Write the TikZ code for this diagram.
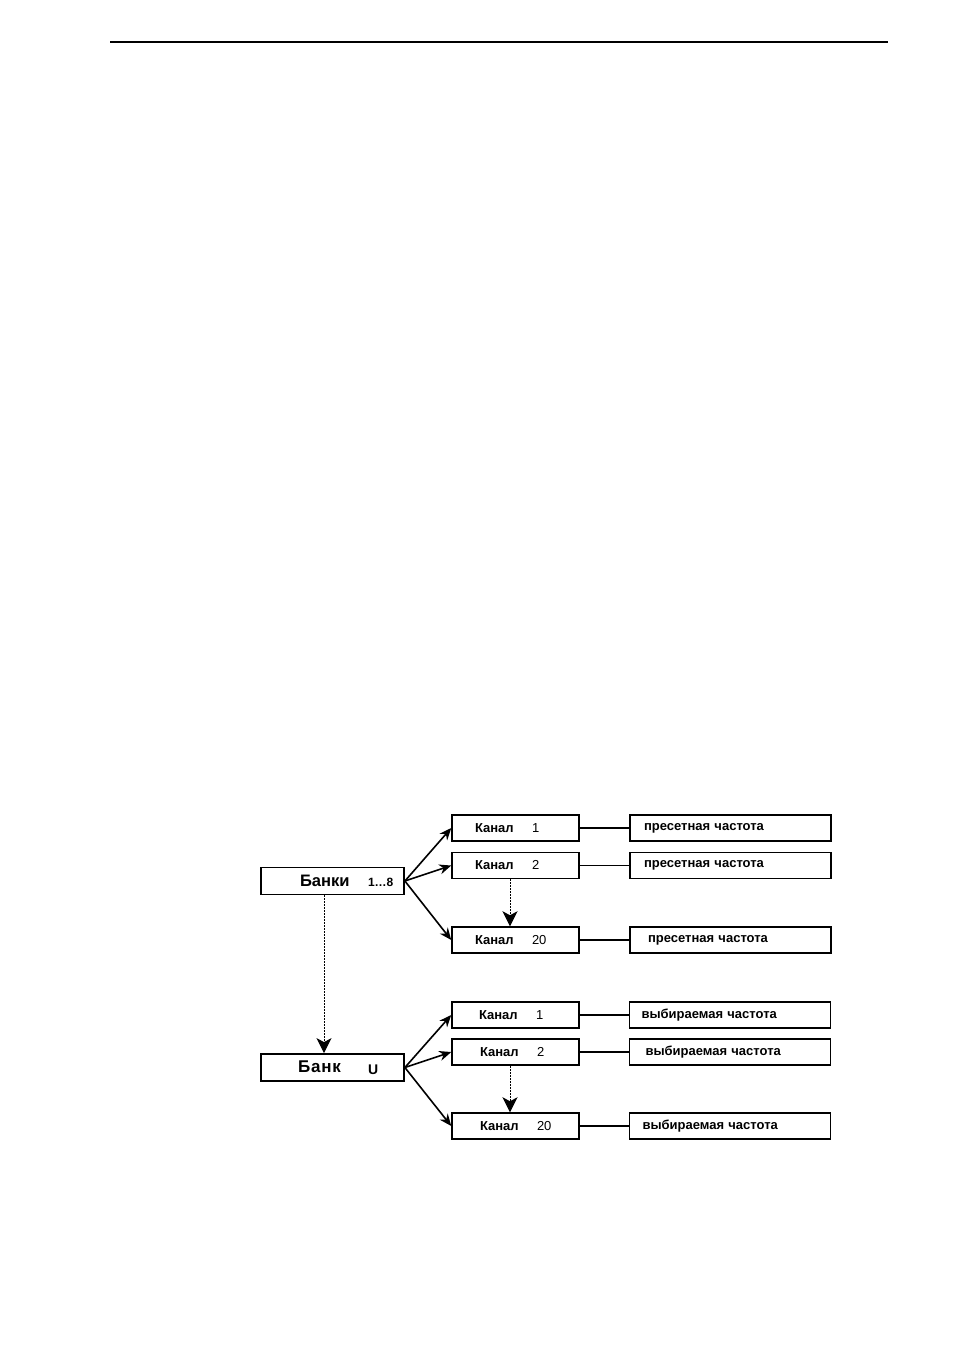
\documentclass[tikz,border=0pt]{standalone}
\usepackage{fontspec}
\setmainfont{Liberation Sans}
\usetikzlibrary{arrows.meta, positioning}

\begin{document}
\begin{tikzpicture}[x=1pt, y=-1pt,
    bankbox/.style={draw, line width=1.8pt, minimum width=143pt, minimum height=27pt,
      inner xsep=0pt, text width=143pt, align=left},
    chanbox/.style={draw, line width=1.5pt, minimum width=127pt, minimum height=26pt,
      inner xsep=0pt, text width=127pt, align=left, font=\fontsize{13}{15}\selectfont\bfseries},
    freqbox/.style={draw, line width=1.5pt, minimum width=201pt, minimum height=26pt,
      inner xsep=0pt, text width=201pt, align=left, font=\fontsize{13}{15}\selectfont\bfseries},
    branch/.style={-{Stealth[length=12pt, width=10pt]}, line width=1.6pt},
    skip/.style={-{Stealth[length=15pt, width=15pt, inset=4pt]}, line width=1pt,
      dash pattern=on 2pt off 1pt},
    link/.style={line width=1.1pt}]
  \useasboundingbox (0,0) rectangle (954,1350);
  \newcommand{\chan}[2][23pt]{\hspace*{#1}\makebox[57pt][l]{Канал}{\mdseries\fontsize{13}{15}\selectfont #2}}
  % page rule
  \draw[line width=1.3pt] (110,42) -- (888,42);

  % banks 1...8
  \node[bankbox] (bank) at (332.5,881)
    {\hspace*{39pt}\makebox[68pt][l]{\fontsize{16.6}{18}\selectfont\bfseries Банки}{\fontsize{12}{13}\selectfont\bfseries 1…8}};
  \node[chanbox] (ch1) at (515.5,828) {\chan{1}};
  \node[chanbox] (ch2) at (515.5,865.5) {\chan{2}};
  \node[chanbox] (ch20) at (515.5,940) {\chan{20}};
  \node[freqbox] (pre1) at (730.5,828) {\hspace*{14pt}пресетная частота};
  \node[freqbox] (pre2) at (730.5,865.5) {\hspace*{14pt}пресетная частота};
  \node[freqbox] (pre20) at (730.5,940) {\hspace*{18pt}пресетная частота};
  \draw[branch] (bank.east) -- (ch1.west);
  \draw[branch] (bank.east) -- (ch2.west);
  \draw[branch] (bank.east) -- (ch20.west);
  \draw[link] (ch1) -- (pre1);
  \draw[link] (ch2) -- (pre2);
  \draw[link] (ch20) -- (pre20);
  \draw[skip] ([xshift=-5.5pt]ch2.south) -- ([xshift=-5.5pt]ch20.north);

  % bank U
  \node[bankbox] (bankU) at (332.5,1067.5)
    {\hspace*{37pt}\makebox[70pt][l]{\raisebox{1.5pt}{\fontsize{17}{18}\selectfont\bfseries\addfontfeature{LetterSpace=5}Банк}}{\fontsize{14}{16}\selectfont\bfseries U}};
  \node[chanbox] (cu1) at (515.5,1015) {\chan[27pt]{1}};
  \node[chanbox] (cu2) at (515.5,1052) {\chan[28pt]{2}};
  \node[chanbox] (cu20) at (515.5,1126) {\chan[28pt]{20}};
  \node[freqbox] (sel1) at (730,1015) {\hspace*{12pt}выбираемая частота};
  \node[freqbox] (sel2) at (730,1052) {\hspace*{16pt}выбираемая частота};
  \node[freqbox] (sel20) at (730,1126) {\hspace*{13pt}выбираемая частота};
  \draw[branch] (bankU.east) -- (cu1.west);
  \draw[branch] (bankU.east) -- (cu2.west);
  \draw[branch] (bankU.east) -- (cu20.west);
  \draw[link] (cu1) -- (sel1);
  \draw[link] (cu2) -- (sel2);
  \draw[link] (cu20) -- (sel20);
  \draw[skip] ([xshift=-5.5pt]cu2.south) -- ([xshift=-5.5pt]cu20.north);

  % from banks to U
  \draw[skip] ([xshift=-8.5pt]bank.south) -- ([xshift=-8.5pt]bankU.north);
\end{tikzpicture}
\end{document}
